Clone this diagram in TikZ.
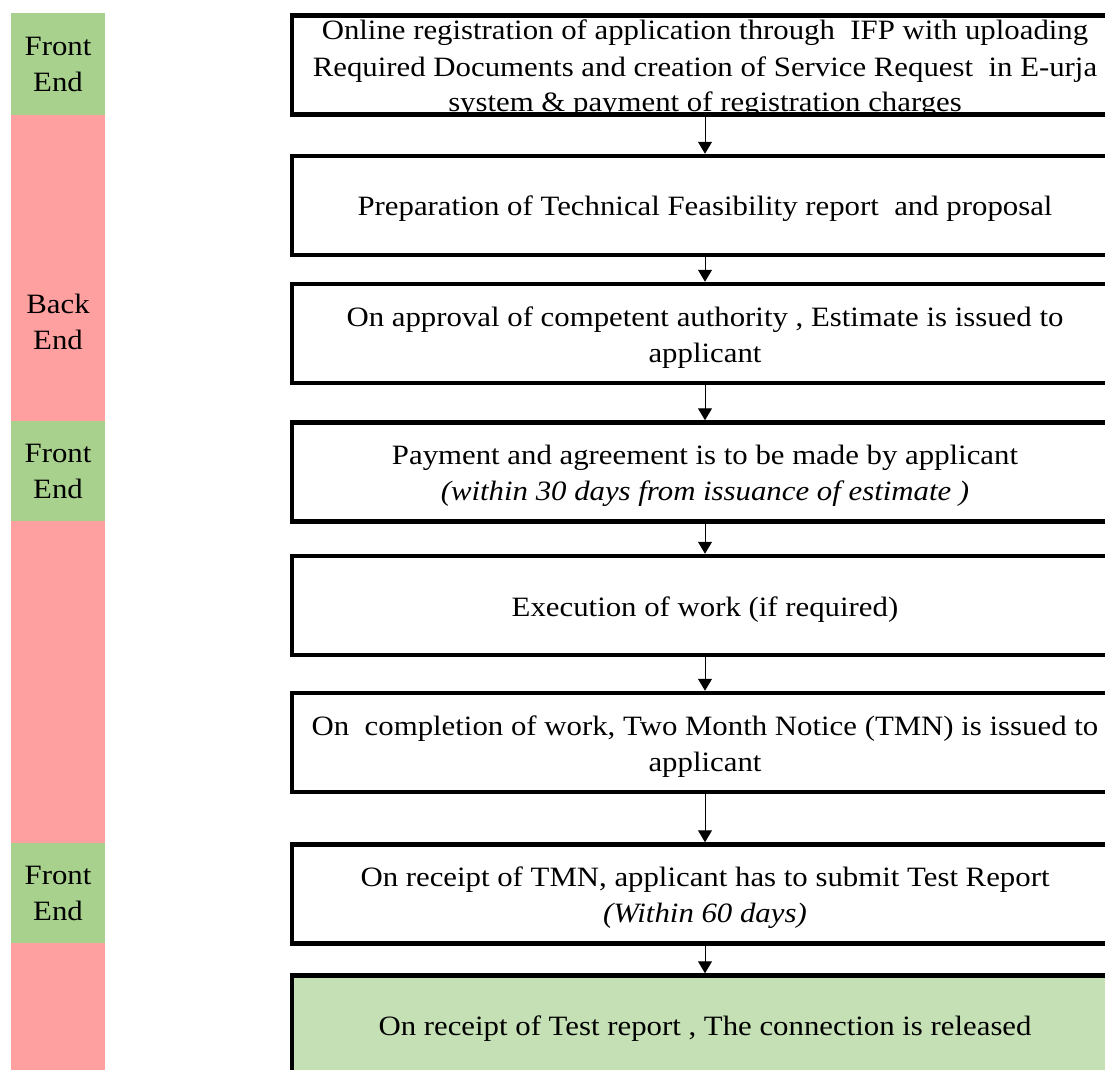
\documentclass[tikz,border=0pt]{standalone}
\usepackage{fontspec}
\setmainfont{Liberation Serif}[FakeStretch=1.1]
\usetikzlibrary{arrows.meta}

\definecolor{frontgreen}{HTML}{A9D18E}
\definecolor{backred}{HTML}{FFA0A0}
\definecolor{donegreen}{HTML}{C5E0B4}

\begin{document}
\begin{tikzpicture}
    [
    x=1pt, y=-1pt,
    stepbox/.style={draw=black, line width=4.5pt, fill=white, minimum width=826pt,
        minimum height=99pt, inner sep=0pt, text height=27pt, align=center,
        font=\fontsize{28}{36}\selectfont},
    twolines/.style={text height=63pt},
    lanefront/.style={fill=frontgreen, minimum width=94pt, inner sep=0pt, align=center,
        font=\fontsize{28}{36}\selectfont},
    laneback/.style={fill=backred, minimum width=94pt, inner sep=0pt},
    lanetext/.style={align=center, inner sep=0pt, font=\fontsize{28}{36}\selectfont},
    flow/.style={-{Triangle[length=12pt, width=14pt]}, line width=1pt},
    ]
    \useasboundingbox (0,0) rectangle (1105,1070);
    \clip (0,0) rectangle (1105,1070);

    % lanes
    \node[lanefront, minimum height=102pt] (lane_front_a) at (58,64) {Front\\End};
    \node[laneback, minimum height=306pt] (lane_back_a) at (58,268) {};
    \node[lanetext] (lab_back_a) at (58,322) {Back\\End};
    \node[lanefront, minimum height=100pt] (lane_front_b) at (58,471) {Front\\End};
    \node[laneback, minimum height=322pt] (lane_back_b) at (58,682) {};
    \node[lanefront, minimum height=100pt] (lane_front_c) at (58,893) {Front\\End};
    \node[laneback, minimum height=140pt] (lane_back_c) at (58,1013) {};

    % steps
    \node[stepbox, text height=96pt, text depth=2pt] (box_register) at (705,65)
    {Online registration of application through\ \ IFP with uploading\\
     Required Documents and creation of Service Request\ \ in E-urja\\
     system \& payment of registration charges};

    \node[stepbox] (box_feasibility) at (705,205.5)
    {Preparation of Technical Feasibility report\ \ and proposal};

    \node[stepbox, twolines] (box_estimate) at (705,333.5)
    {On approval of competent authority , Estimate is issued to\\ applicant};

    \node[stepbox, twolines] (box_payment) at (705,472)
    {Payment and agreement is to be made by applicant\\
     \textit{(within 30 days from issuance of estimate )}};

    \node[stepbox] (box_execution) at (705,605.5)
    {Execution of work (if required)};

    \node[stepbox, twolines] (box_notice) at (705,742.5)
    {On\ \ completion of work, Two Month Notice (TMN) is issued to\\ applicant};

    \node[stepbox, twolines] (box_test) at (705,894)
    {On receipt of TMN, applicant has to submit Test Report\\ \textit{(Within 60 days)}};

    \node[stepbox, fill=donegreen] (box_release) at (705,1025)
    {On receipt of Test report , The connection is released};

    \draw[flow] (box_register) -- (box_feasibility);
    \draw[flow] (box_feasibility) -- (box_estimate);
    \draw[flow] (box_estimate) -- (box_payment);
    \draw[flow] (box_payment) -- (box_execution);
    \draw[flow] (box_execution) -- (box_notice);
    \draw[flow] (box_notice) -- (box_test);
    \draw[flow] (box_test) -- (box_release);
\end{tikzpicture}
\end{document}
